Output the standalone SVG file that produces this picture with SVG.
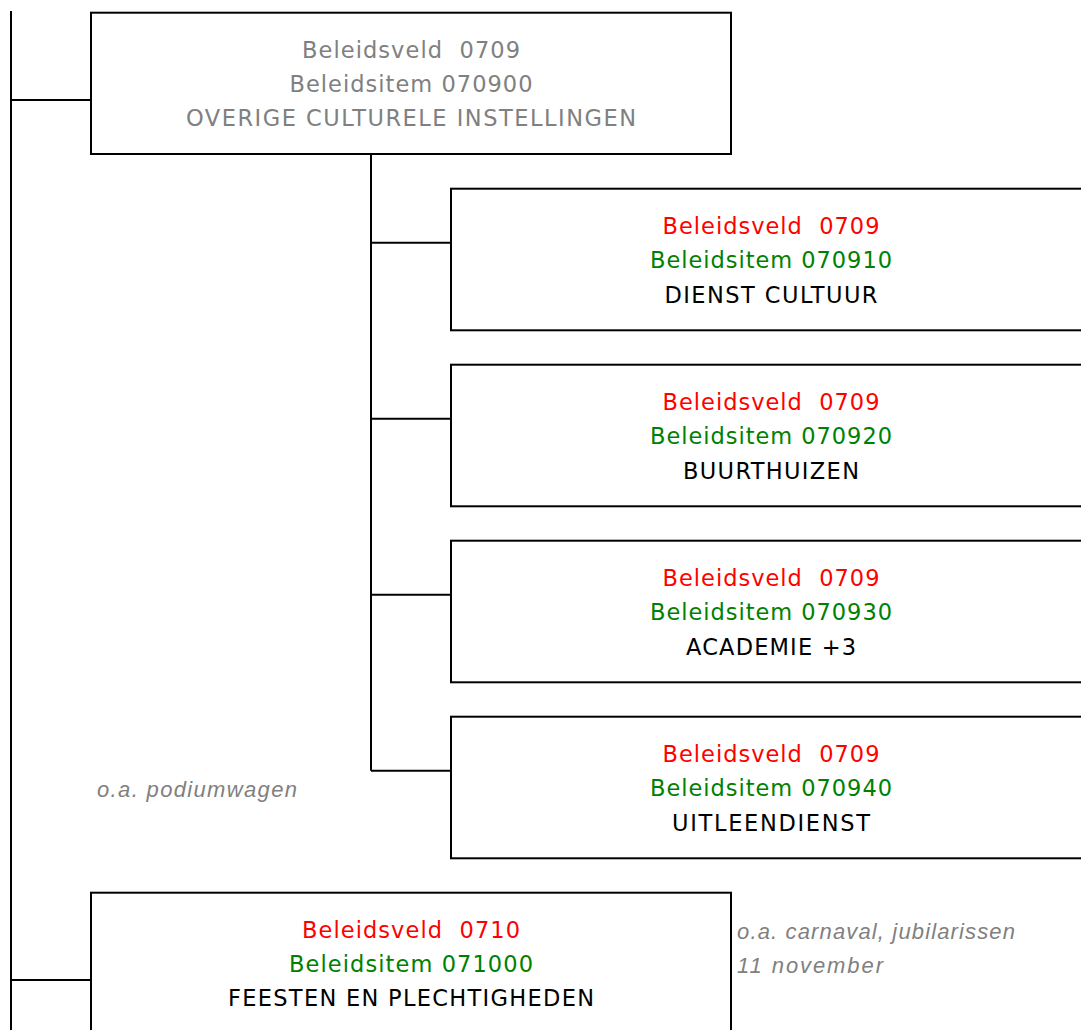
<svg xmlns="http://www.w3.org/2000/svg" width="1081" height="1030" viewBox="0 0 1081 1030">
<style>
.box{fill:#ffffff;stroke:#000000;stroke-width:2}
.ln{fill:none;stroke:#000000;stroke-width:2}
text{font-family:"DejaVu Sans","Liberation Sans",sans-serif;font-size:22.5px;text-anchor:middle;white-space:pre}
.g{fill:#808080}
.r{fill:#ff0000}
.gr{fill:#008000}
.k{fill:#000000}
.note{font-family:"Liberation Sans",Arial,sans-serif;font-style:italic;font-size:22px;fill:#808080;text-anchor:start}
</style>
<rect width="1081" height="1030" fill="#ffffff"/>
<g id="connectors">
<line class="ln" x1="11" y1="11" x2="11" y2="1030"/>
<line class="ln" x1="11" y1="100" x2="91" y2="100"/>
<line class="ln" x1="11" y1="980" x2="91" y2="980"/>
<line class="ln" x1="371" y1="154" x2="371" y2="770.7"/>
<line class="ln" x1="371" y1="242.7" x2="451" y2="242.7"/>
<line class="ln" x1="371" y1="418.7" x2="451" y2="418.7"/>
<line class="ln" x1="371" y1="594.7" x2="451" y2="594.7"/>
<line class="ln" x1="371" y1="770.7" x2="451" y2="770.7"/>
</g>
<g id="n070900">
<rect class="box" x="91" y="12.7" width="640" height="141.3"/>
<text class="g" x="411" y="58" textLength="218">Beleidsveld  0709</text>
<text class="g" x="411" y="92" textLength="243">Beleidsitem 070900</text>
<text class="g" x="411" y="126" textLength="450">OVERIGE CULTURELE INSTELLINGEN</text>
</g>
<g id="n070910">
<rect class="box" x="451" y="188.7" width="640" height="141.6"/>
<text class="r" x="771" y="234.3" textLength="217">Beleidsveld  0709</text>
<text class="gr" x="771" y="268" textLength="242">Beleidsitem 070910</text>
<text class="k" x="771" y="302.5" textLength="213">DIENST CULTUUR</text>
</g>
<g id="n070920">
<rect class="box" x="451" y="364.7" width="640" height="141.6"/>
<text class="r" x="771" y="410.3" textLength="217">Beleidsveld  0709</text>
<text class="gr" x="771" y="444" textLength="242">Beleidsitem 070920</text>
<text class="k" x="771" y="478.5" textLength="176">BUURTHUIZEN</text>
</g>
<g id="n070930">
<rect class="box" x="451" y="540.7" width="640" height="141.6"/>
<text class="r" x="771" y="586.3" textLength="217">Beleidsveld  0709</text>
<text class="gr" x="771" y="620" textLength="242">Beleidsitem 070930</text>
<text class="k" x="771" y="654.5" textLength="170">ACADEMIE +3</text>
</g>
<g id="n070940">
<rect class="box" x="451" y="716.7" width="640" height="141.6"/>
<text class="r" x="771" y="762.3" textLength="217">Beleidsveld  0709</text>
<text class="gr" x="771" y="796" textLength="242">Beleidsitem 070940</text>
<text class="k" x="771" y="830.5" textLength="198">UITLEENDIENST</text>
</g>
<g id="n071000">
<rect class="box" x="91" y="892.7" width="640" height="150"/>
<text class="r" x="411" y="938" textLength="218">Beleidsveld  0710</text>
<text class="gr" x="411" y="971.5" textLength="244">Beleidsitem 071000</text>
<text class="k" x="411" y="1006" textLength="366">FEESTEN EN PLECHTIGHEDEN</text>
</g>
<g id="notes">
<text class="note" x="97" y="797" textLength="200">o.a. podiumwagen</text>
<text class="note" x="737" y="939" textLength="278">o.a. carnaval, jubilarissen</text>
<text class="note" x="737" y="973" textLength="146">11 november</text>
</g>
</svg>
